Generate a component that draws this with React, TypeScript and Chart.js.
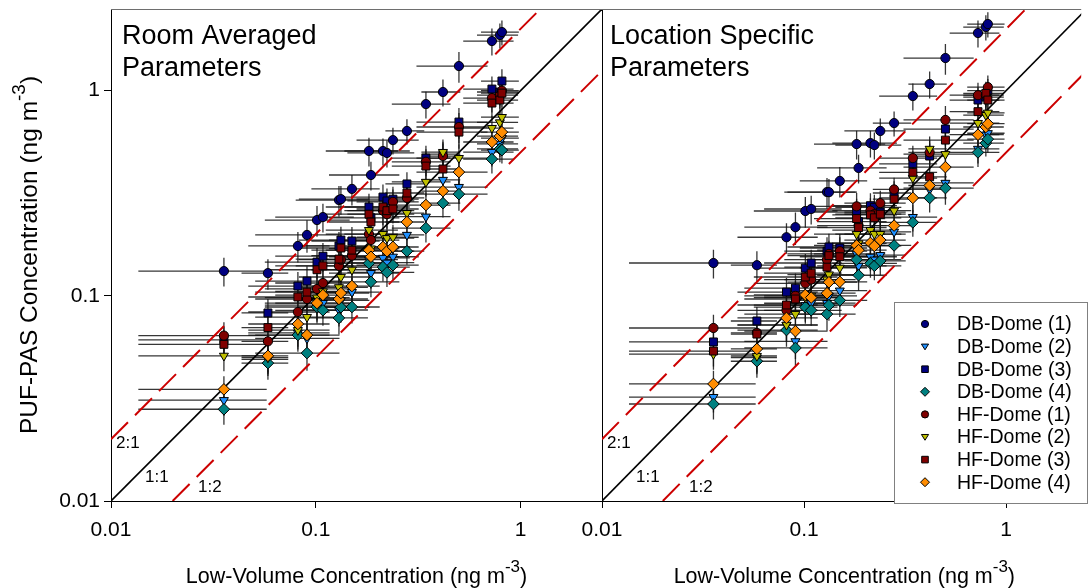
import React, { useEffect, useRef } from 'react';
import { Chart, registerables } from 'chart.js';
Chart.register(...registerables);

const FONT = "'Liberation Sans', Arial, Helvetica, sans-serif";

// ---------- data ----------
const lowVolume = [0.0356, 0.0584, 0.0818, 0.0906, 0.1014, 0.1084, 0.1298, 0.1327, 0.1502, 0.1819, 0.186, 0.2129, 0.2227, 0.2382, 0.2788, 0.3452, 0.418, 0.5003, 0.725, 0.793, 0.8113];
const lowVolumeSD = [0.022, 0.015, 0.035, 0.04, 0.045, 0.045, 0.05, 0.05, 0.055, 0.07, 0.07, 0.075, 0.08, 0.08, 0.06, 0.11, 0.09, 0.19, 0.2, 0.18, 0.17];
const pasRelSD = [0.16, 0.17, 0.17, 0.18, 0.17, 0.16, 0.17, 0.16, 0.17, 0.16, 0.16, 0.15, 0.15, 0.15, 0.14, 0.15, 0.15, 0.17, 0.15, 0.14, 0.14];

const roomDB1 = [0.132, 0.129, 0.175, 0.198, 0.234, 0.242, 0.293, 0.296, 0.332, 0.508, 0.388, 0.508, 0.497, 0.574, 0.636, 0.86, 0.985, 1.318, 1.745, 1.866, 1.93];
const roomDB2 = [0.031, 0.049, 0.066, 0.062, 0.09, 0.0922, 0.0853, 0.095, 0.1043, 0.15, 0.129, 0.153, 0.145, 0.155, 0.198, 0.243, 0.367, 0.339, 0.502, 0.55, 0.587];
const roomDB3 = [0.061, 0.0825, 0.1116, 0.118, 0.146, 0.156, 0.175, 0.187, 0.185, 0.271, 0.24, 0.303, 0.29, 0.296, 0.351, 0.469, 0.49, 0.703, 1.018, 0.985, 1.114];
const roomDB4 = [0.028, 0.047, 0.0644, 0.0526, 0.0882, 0.085, 0.078, 0.088, 0.0882, 0.144, 0.117, 0.138, 0.13, 0.141, 0.165, 0.214, 0.283, 0.313, 0.464, 0.52, 0.513];
const roomHF1 = [0.064, 0.06, 0.0834, 0.0965, 0.108, 0.1155, 0.14, 0.15, 0.157, 0.2, 0.187, 0.26, 0.25, 0.287, 0.3, 0.45, 0.48, 0.665, 0.92, 0.95, 1.0];
const roomHF2 = [0.051, 0.05, 0.068, 0.0788, 0.098, 0.105, 0.11, 0.1235, 0.134, 0.209, 0.17, 0.2, 0.191, 0.193, 0.253, 0.359, 0.502, 0.469, 0.657, 0.7, 0.743];
const roomHF3 = [0.058, 0.07, 0.0987, 0.1043, 0.134, 0.14, 0.151, 0.171, 0.167, 0.25, 0.229, 0.271, 0.26, 0.265, 0.317, 0.429, 0.415, 0.628, 0.87, 0.9, 0.973];
const roomHF4 = [0.035, 0.051, 0.0729, 0.0644, 0.0922, 0.1009, 0.0965, 0.1032, 0.1116, 0.167, 0.155, 0.173, 0.165, 0.173, 0.229, 0.277, 0.324, 0.401, 0.562, 0.6, 0.628];

const locDB1 = [0.1445, 0.141, 0.193, 0.216, 0.259, 0.265, 0.3205, 0.32, 0.363, 0.549, 0.42, 0.555, 0.543, 0.636, 0.695, 0.941, 1.077, 1.442, 1.909, 2.042, 2.112];
const locDB2 = [0.0321, 0.05, 0.072, 0.06, 0.09, 0.092, 0.0922, 0.1, 0.106, 0.16, 0.14, 0.155, 0.15, 0.158, 0.205, 0.242, 0.33, 0.355, 0.52, 0.61, 0.62];
const locDB3 = [0.0596, 0.0754, 0.1043, 0.109, 0.1365, 0.1445, 0.165, 0.173, 0.171, 0.256, 0.23, 0.275, 0.27, 0.256, 0.317, 0.44, 0.48, 0.65, 0.9, 0.93, 1.0];
const locDB4 = [0.0297, 0.048, 0.0681, 0.0557, 0.088, 0.085, 0.0815, 0.09, 0.095, 0.15, 0.126, 0.144, 0.14, 0.148, 0.176, 0.228, 0.3, 0.335, 0.5, 0.555, 0.58];
const locHF1 = [0.0697, 0.066, 0.085, 0.1, 0.115, 0.12, 0.15, 0.16, 0.165, 0.273, 0.22, 0.26, 0.25, 0.283, 0.33, 0.469, 0.5, 0.72, 0.95, 0.95, 1.04];
const locHF2 = [0.052, 0.0509, 0.0722, 0.0815, 0.098, 0.1, 0.12, 0.127, 0.137, 0.2, 0.18, 0.209, 0.2, 0.2, 0.26, 0.375, 0.52, 0.49, 0.695, 0.76, 0.78];
const locHF3 = [0.0538, 0.0651, 0.0902, 0.0965, 0.1235, 0.129, 0.138, 0.157, 0.155, 0.238, 0.215, 0.248, 0.24, 0.25, 0.296, 0.4, 0.38, 0.574, 0.79, 0.97, 0.9];
const locHF4 = [0.0372, 0.0551, 0.078, 0.0673, 0.101, 0.098, 0.103, 0.1165, 0.117, 0.176, 0.167, 0.181, 0.175, 0.187, 0.22, 0.3, 0.345, 0.424, 0.61, 0.665, 0.69];

const seriesLabels = ['DB-Dome (1)', 'DB-Dome (2)', 'DB-Dome (3)', 'DB-Dome (4)', 'HF-Dome (1)', 'HF-Dome (2)', 'HF-Dome (3)', 'HF-Dome (4)'];
const seriesColors = ['#000080', '#1E90FF', '#000080', '#008080', '#800000', '#BFBF00', '#800000', '#FF8C00'];
const seriesStyles = ['circle', 'triangle', 'rect', 'rectRot', 'circle', 'triangle', 'rect', 'rectRot'];

const axisTicks = [0.01, 0.1, 1];
const axisMin = 0.01;
const axisMax = 2.5;
const rightPanelVisibleMax = 2.35;
const ratioLabels = ['1:1', '2:1', '1:2'];
const ratioFactors = [1, 2, 0.5];

const roomSeries = [roomDB1, roomDB2, roomDB3, roomDB4, roomHF1, roomHF2, roomHF3, roomHF4];
const locSeries = [locDB1, locDB2, locDB3, locDB4, locHF1, locHF2, locHF3, locHF4];

// ---------- helpers ----------
const markerRadius: Record<string, number> = { circle: 4.6, triangle: 5.2, rect: 5.6, rectRot: 5.8 };

function buildDatasets(series: number[][]) {
  const lines = ratioFactors.map((k, i) => {
    const x0 = Math.max(axisMin, axisMin / k);
    const x1 = Math.min(axisMax, axisMax / k);
    return {
      label: ratioLabels[i],
      data: [{ x: x0, y: x0 * k }, { x: x1, y: x1 * k }],
      showLine: true,
      pointRadius: 0,
      borderColor: k === 1 ? '#000000' : '#CC0000',
      borderWidth: k === 1 ? 1.6 : 2,
      borderDash: k === 1 ? [] : [24, 10],
      fill: false,
      order: 20,
    };
  });
  const pts = series.map((vals, s) => ({
    label: seriesLabels[s],
    data: vals.map((y, i) => ({ x: lowVolume[i], y, xe: lowVolumeSD[i], ye: y * pasRelSD[i] })),
    showLine: false,
    pointStyle: seriesStyles[s],
    pointRotation: seriesStyles[s] === 'triangle' ? 180 : 0,
    pointRadius: markerRadius[seriesStyles[s]],
    pointBackgroundColor: seriesColors[s],
    pointBorderColor: '#000000',
    pointBorderWidth: 1,
    order: 8 - s,
  }));
  return [...lines, ...pts];
}

const errorBarPlugin = {
  id: 'errorBars',
  beforeDatasetsDraw(chart: any) {
    const { ctx, chartArea: a, scales } = chart;
    const xs = scales.x;
    const ys = scales.y;
    ctx.save();
    ctx.beginPath();
    ctx.rect(a.left, a.top, a.right - a.left, a.bottom - a.top);
    ctx.clip();
    ctx.strokeStyle = 'rgba(20,20,20,0.85)';
    ctx.lineWidth = 1.3;
    chart.data.datasets.forEach((ds: any) => {
      ds.data.forEach((p: any) => {
        if (p.xe === undefined) return;
        const px = xs.getPixelForValue(p.x);
        const py = ys.getPixelForValue(p.y);
        const xl = xs.getPixelForValue(Math.max(p.x - p.xe, 1e-4));
        const xr = xs.getPixelForValue(p.x + p.xe);
        const yb = ys.getPixelForValue(Math.max(p.y - p.ye, 1e-4));
        const yt = ys.getPixelForValue(p.y + p.ye);
        ctx.beginPath();
        ctx.moveTo(xl, py);
        ctx.lineTo(xr, py);
        ctx.moveTo(px, yb);
        ctx.lineTo(px, yt);
        ctx.stroke();
      });
    });
    ctx.restore();
  },
};

function drawSupText(ctx: CanvasRenderingContext2D, pre: string, sup: string, post: string, cx: number, baseline: number, size: number, supSize: number, raise: number) {
  ctx.font = `${size}px ${FONT}`;
  const w1 = ctx.measureText(pre).width;
  const w3 = ctx.measureText(post).width;
  ctx.font = `${supSize}px ${FONT}`;
  const w2 = ctx.measureText(sup).width;
  const start = cx - (w1 + w2 + w3) / 2;
  ctx.textAlign = 'left';
  ctx.textBaseline = 'alphabetic';
  ctx.font = `${size}px ${FONT}`;
  ctx.fillText(pre, start, baseline);
  ctx.font = `${supSize}px ${FONT}`;
  ctx.fillText(sup, start + w1, baseline - raise);
  ctx.font = `${size}px ${FONT}`;
  ctx.fillText(post, start + w1 + w2, baseline);
}

function drawMarker(ctx: CanvasRenderingContext2D, style: string, x: number, y: number, r: number) {
  ctx.beginPath();
  if (style === 'circle') {
    ctx.arc(x, y, r, 0, Math.PI * 2);
  } else if (style === 'triangle') {
    ctx.moveTo(x - r, y - r * 0.7);
    ctx.lineTo(x + r, y - r * 0.7);
    ctx.lineTo(x, y + r * 0.9);
    ctx.closePath();
  } else if (style === 'rect') {
    ctx.rect(x - r, y - r, 2 * r, 2 * r);
  } else {
    ctx.moveTo(x, y - r * 1.25);
    ctx.lineTo(x + r * 1.25, y);
    ctx.lineTo(x, y + r * 1.25);
    ctx.lineTo(x - r * 1.25, y);
    ctx.closePath();
  }
  ctx.fill();
  ctx.stroke();
}

const decorPlugin = {
  id: 'panelDecor',
  afterDraw(chart: any, _args: any, opts: any) {
    const { ctx, chartArea: a, scales } = chart;
    const xs = scales.x;
    ctx.save();
    // frame
    ctx.lineWidth = 1;
    ctx.strokeStyle = '#6e6e6e';
    ctx.beginPath();
    ctx.moveTo(a.left, a.top + 0.5);
    ctx.lineTo(a.right, a.top + 0.5);
    ctx.stroke();
    if (opts.rightBorder) {
      ctx.strokeStyle = '#000';
      ctx.beginPath();
      ctx.moveTo(a.right + 0.5, a.top);
      ctx.lineTo(a.right + 0.5, a.bottom);
      ctx.stroke();
    }
    // panel title
    ctx.fillStyle = '#000';
    ctx.font = `27px ${FONT}`;
    ctx.textAlign = 'left';
    ctx.textBaseline = 'alphabetic';
    opts.title.forEach((t: string, i: number) => ctx.fillText(t, a.left + opts.titleDx, a.top + 35 + i * 32));
    // ratio labels
    ctx.font = `17px ${FONT}`;
    ctx.textBaseline = 'middle';
    ctx.fillText('2:1', a.left + 5, a.bottom - 58);
    ctx.fillText('1:1', a.left + 34, a.bottom - 24);
    ctx.fillText('1:2', a.left + 87, a.bottom - 14);
    // x title
    const cx = (xs.getPixelForValue(axisMin) + xs.getPixelForValue(axisMax)) / 2;
    drawSupText(ctx, 'Low-Volume Concentration (ng m', '-3', ')', cx, 583, 21.5, 17, 11);
    // y title
    if (opts.yTitle) {
      ctx.save();
      ctx.translate(37, (a.top + a.bottom) / 2);
      ctx.rotate(-Math.PI / 2);
      drawSupText(ctx, 'PUF-PAS Concentration (ng m', '-3', ')', 0, 0, 24.5, 19, 12);
      ctx.restore();
    }
    // legend
    if (opts.legend) {
      const bx = 894.5, by = 302.5, bw = 193, bh = 201;
      ctx.fillStyle = '#fff';
      ctx.fillRect(bx, by, bw, bh);
      ctx.strokeStyle = '#808080';
      ctx.strokeRect(bx, by, bw, bh);
      seriesLabels.forEach((lab, i) => {
        const y = 324 + i * 22.6;
        ctx.fillStyle = seriesColors[i];
        ctx.strokeStyle = '#000';
        ctx.lineWidth = 1;
        drawMarker(ctx, seriesStyles[i], 925, y, seriesStyles[i] === 'rect' ? 3.3 : 3.6);
        ctx.fillStyle = '#000';
        ctx.font = `19.5px ${FONT}`;
        ctx.textAlign = 'left';
        ctx.textBaseline = 'middle';
        ctx.fillText(lab, 957, y + 1);
      });
    }
    ctx.restore();
  },
};

function zeroPadding(s: any) {
  s.paddingTop = 0;
  s.paddingBottom = 0;
  s.paddingLeft = 0;
  s.paddingRight = 0;
}

function makeOptions(side: 'left' | 'right', decor: any) {
  const isLeft = side === 'left';
  return {
    responsive: false,
    maintainAspectRatio: false,
    animation: false as const,
    devicePixelRatio: 1,
    layout: { padding: isLeft ? { left: 0, top: 9, right: 486, bottom: 0 } : { left: 602, top: 9, right: 0, bottom: 0 } },
    plugins: {
      legend: { display: false },
      tooltip: { enabled: false },
      panelDecor: decor,
    },
    scales: {
      x: {
        type: 'logarithmic' as const,
        min: axisMin,
        max: isLeft ? axisMax : rightPanelVisibleMax,
        afterBuildTicks: (s: any) => { s.ticks = axisTicks.map((v) => ({ value: v })); },
        afterFit: (s: any) => { s.height = 87; zeroPadding(s); },
        ticks: {
          callback: (v: any) => String(v),
          font: { family: FONT, size: 21 },
          color: '#000',
          padding: 10,
          maxRotation: 0,
          autoSkip: false,
        },
        grid: { display: true, drawOnChartArea: false, drawTicks: true, tickLength: 7, color: '#000', lineWidth: 1 },
        border: { display: true, color: '#000', width: 1 },
      },
      y: {
        type: 'logarithmic' as const,
        display: isLeft,
        min: axisMin,
        max: axisMax,
        afterBuildTicks: (s: any) => { s.ticks = axisTicks.map((v) => ({ value: v })); },
        afterFit: (s: any) => { s.width = isLeft ? 111 : 0; zeroPadding(s); },
        ticks: {
          callback: (v: any) => String(v),
          font: { family: FONT, size: 21 },
          color: '#000',
          padding: 4,
          autoSkip: false,
        },
        grid: { display: true, drawOnChartArea: false, drawTicks: true, tickLength: 7, color: '#000', lineWidth: 1 },
        border: { display: true, color: '#000', width: 1 },
      },
    },
  };
}

export default function App() {
  const leftRef = useRef<HTMLCanvasElement>(null);
  const rightRef = useRef<HTMLCanvasElement>(null);

  useEffect(() => {
    const left = new Chart(leftRef.current as HTMLCanvasElement, {
      type: 'scatter',
      data: { datasets: buildDatasets(roomSeries) as any },
      options: makeOptions('left', { title: ['Room Averaged', 'Parameters'], titleDx: 11, rightBorder: true, yTitle: true, legend: false }) as any,
      plugins: [errorBarPlugin, decorPlugin],
    });
    const right = new Chart(rightRef.current as HTMLCanvasElement, {
      type: 'scatter',
      data: { datasets: buildDatasets(locSeries) as any },
      options: makeOptions('right', { title: ['Location Specific', 'Parameters'], titleDx: 8, rightBorder: false, yTitle: false, legend: true }) as any,
      plugins: [errorBarPlugin, decorPlugin],
    });
    return () => {
      left.destroy();
      right.destroy();
    };
  }, []);

  const canvasStyle: React.CSSProperties = { position: 'absolute', left: 0, top: 0, width: 1088, height: 588 };
  return (
    <div style={{ position: 'fixed', left: 0, top: 0, width: 1088, height: 588, background: '#fff', overflow: 'hidden' }}>
      <canvas ref={leftRef} width={1088} height={588} style={canvasStyle} />
      <canvas ref={rightRef} width={1088} height={588} style={canvasStyle} />
    </div>
  );
}
